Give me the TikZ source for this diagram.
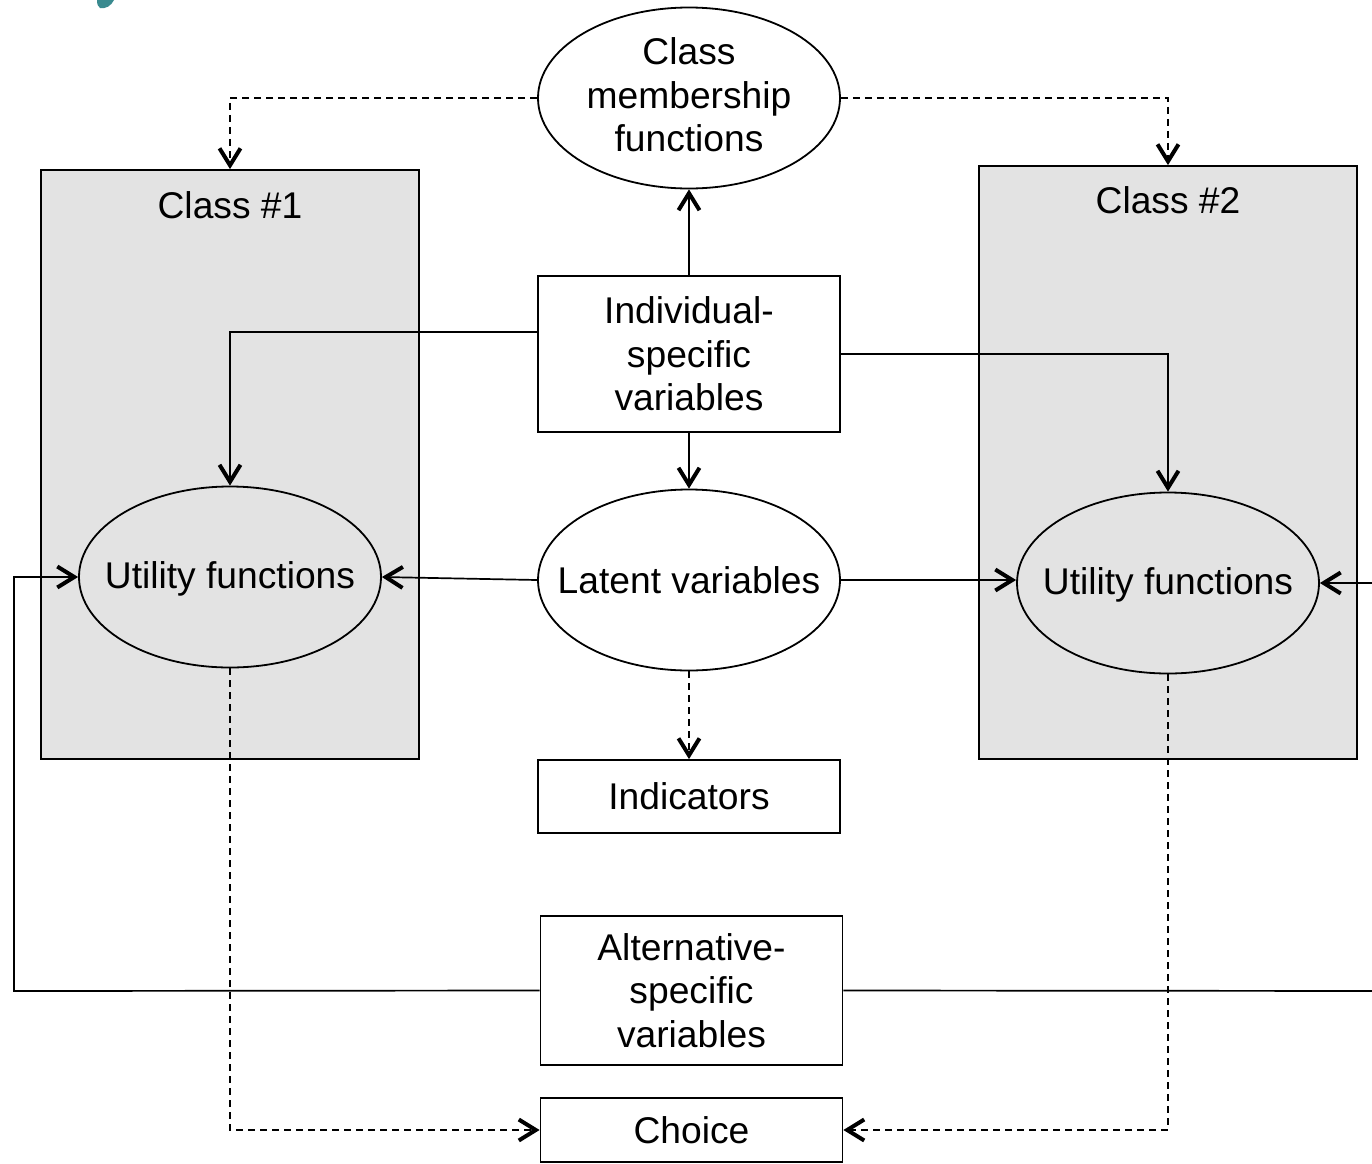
\documentclass[tikz,border=0pt]{standalone}
\usepackage{fontspec}
\setmainfont{Liberation Sans}
\usetikzlibrary{shapes.geometric,arrows.meta}
\definecolor{classgray}{HTML}{E3E3E3}
\definecolor{tealmark}{HTML}{3A8A8F}
\begin{document}
\begin{tikzpicture}[x=0.5pt,y=-0.5pt,
  every node/.style={font=\fontsize{18.6}{21.75}\selectfont},
  ell/.style={draw, ellipse, line width=0.9pt, inner sep=0pt, minimum width=151pt, minimum height=90.5pt},
  box/.style={draw, rectangle, line width=0.9pt, inner sep=0pt, align=center, minimum width=151pt},
  classbox/.style={draw, rectangle, line width=0.9pt, fill=classgray, inner sep=0pt, minimum width=189pt},
  conn/.style={line width=0.85pt, -{Straight Barb[length=8.5pt,width=10.5pt,line width=2pt]}},
  dconn/.style={conn, dash pattern=on 3.5pt off 2.5pt},
]
\useasboundingbox (0,0) rectangle (1372,1163);
\clip (0,0) rectangle (1372,1163);
% teal fragment
\fill[tealmark] (97,0) -- (114,0) .. controls (111,6) and (106,9) .. (100,8) .. controls (98,7) and (97,4) .. (97,0) -- cycle;

% class boxes
\node[classbox, minimum height=294.5pt] (class1) at (230,464.5) {};
\node[classbox, minimum height=296.5pt] (class2) at (1168,462.5) {};
\node (c1lab) at (230,205) {Class \#1};
\node (c2lab) at (1168,200) {Class \#2};

% main nodes
\node[ell, fill=white, label={[align=center, yshift=1.5pt]center:Class\\membership\\functions}] (memb) at (689,98) {};
\node[box, fill=white, minimum height=78pt] (ind) at (689,354) {Individual-\\specific\\variables};
\node[ell, fill=white, label={center:Latent variables}] (lat) at (689,580) {};
\node[ell, fill=classgray, label={[yshift=-1pt]center:Utility functions}] (util1) at (230,577) {};
\node[ell, fill=classgray, label={[yshift=-1pt]center:Utility functions}] (util2) at (1168,583) {};
\node[box, fill=white, minimum height=36.5pt] (indic) at (689,796.5) {Indicators};
\node[box, fill=white, minimum height=74.5pt] (alt) at (691.5,990.5) {Alternative-\\specific\\variables};
\node[box, fill=white, minimum height=32pt] (choice) at (691.5,1130) {Choice};

% connectors
\draw[dconn] (memb.west) -| (class1.north);
\draw[dconn] (memb.east) -| (class2.north);
\draw[conn] (ind.north) -- (memb.south);
\draw[conn] (ind.west |- 0,332) -| (util1.north);
\draw[conn] (ind.east) -| (util2.north);
\draw[conn] (ind.south) -- (lat.north);
\draw[conn] (lat.west) -- (util1.east);
\draw[conn] (lat.east) -- (util2.west |- lat.east);
\draw[dconn] (lat.south) -- (indic.north);
\coordinate (altL) at (14,991);
\coordinate (altR) at (1400,991);
\draw[conn] (alt.west) -- (altL) |- (util1.west);
\draw[conn] (alt.east) -- (altR) |- (util2.east);
\draw[dconn] (util1.south) |- (choice.west);
\draw[dconn] (util2.south) |- (choice.east);
\end{tikzpicture}
\end{document}
